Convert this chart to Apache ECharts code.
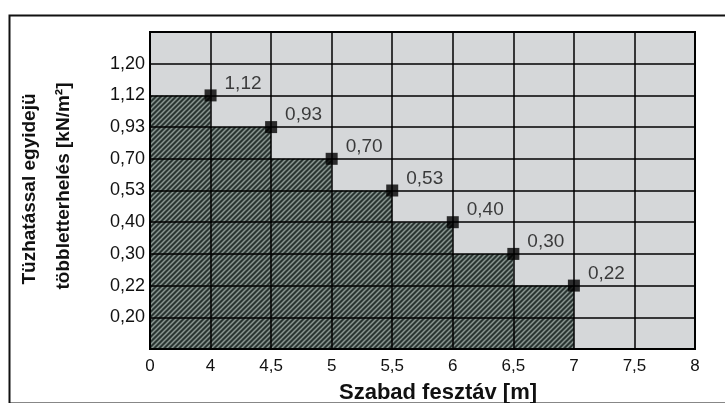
<!DOCTYPE html>
<html>
<head>
<meta charset="utf-8">
<script src="https://cdn.jsdelivr.net/npm/echarts@6/dist/echarts.min.js"></script>
<style>
  html, body { margin: 0; padding: 0; background: #fff; }
  #main { width: 725px; height: 403px; }
</style>
</head>
<body>
<div id="main"></div>
<script>
// tick labels (both axes are equally spaced in the original)
var xLabels = ['0', '4', '4,5', '5', '5,5', '6', '6,5', '7', '7,5', '8'];
var yLabels = ['', '0,20', '0,22', '0,30', '0,40', '0,53', '0,70', '0,93', '1,12', '1,20', ''];

// data
var spans = ['4', '4,5', '5', '5,5', '6', '6,5', '7'];
var loads = ['1,12', '0,93', '0,70', '0,53', '0,40', '0,30', '0,22'];

var points = spans.map(function (s, i) {
    return [xLabels.indexOf(s), yLabels.indexOf(loads[i]), loads[i]];
});
// step area starts at x=0 at the first level
var stepData = [[0, points[0][1]]].concat(points.map(function (p) { return [p[0], p[1]]; }));

// hatch pattern
var pat = document.createElement('canvas');
pat.width = 5; pat.height = 5;
var ctx = pat.getContext('2d');
ctx.fillStyle = '#2a3532';
ctx.fillRect(0, 0, 5, 5);
ctx.strokeStyle = '#8a9692';
ctx.lineWidth = 1.5;
ctx.beginPath();
ctx.moveTo(-1, 6); ctx.lineTo(6, -1);
ctx.moveTo(-1, 1); ctx.lineTo(1, -1);
ctx.moveTo(4, 6); ctx.lineTo(6, 4);
ctx.stroke();

var myChart = echarts.init(document.getElementById('main'));
var option = {
    animation: false,
    textStyle: { fontFamily: 'Liberation Sans' },
    grid: {
        left: 150, top: 32, right: 30, bottom: 54,
        show: true,
        backgroundColor: '#d5d7d9',
        borderColor: '#000',
        borderWidth: 2
    },
    xAxis: {
        type: 'value',
        min: 0, max: 9, interval: 1,
        z: 3,
        axisLine: { lineStyle: { color: '#000', width: 2 } },
        axisTick: { show: false },
        axisLabel: {
            color: '#111', fontSize: 17, margin: 9,
            formatter: function (v) { return xLabels[v]; }
        },
        splitLine: { lineStyle: { color: '#000', width: 1.5 } }
    },
    yAxis: {
        type: 'value',
        min: 0, max: 10, interval: 1,
        z: 3,
        axisLine: { show: true, lineStyle: { color: '#000', width: 2 } },
        axisTick: { show: false },
        axisLabel: {
            color: '#111', fontSize: 18, margin: 5,
            formatter: function (v) { return yLabels[v]; }
        },
        splitLine: { lineStyle: { color: '#000', width: 1.5 } }
    },
    graphic: [
        {
            type: 'rect', left: 7, top: 13, z: -1,
            shape: { width: 730, height: 388 },
            style: { fill: 'none', stroke: '#111', lineWidth: 2 }
        },
        {
            type: 'text', x: 30, y: 189, rotation: Math.PI / 2,
            style: {
                text: 'Tüzhatással egyidejü',
                font: 'bold 19px "Liberation Sans"', fill: '#111',
                align: 'center', verticalAlign: 'middle'
            }
        },
        {
            type: 'text', x: 64, y: 186, rotation: Math.PI / 2,
            style: {
                text: 'többletterhelés [kN/m²]',
                font: 'bold 19px "Liberation Sans"', fill: '#111',
                align: 'center', verticalAlign: 'middle'
            }
        },
        {
            type: 'text', x: 438, y: 393,
            style: {
                text: 'Szabad fesztáv [m]',
                font: 'bold 22px "Liberation Sans"', fill: '#111',
                align: 'center', verticalAlign: 'middle'
            }
        }
    ],
    series: [
        {
            type: 'line',
            step: 'start',
            data: stepData,
            symbol: 'none',
            lineStyle: { width: 0 },
            areaStyle: { color: { image: pat, repeat: 'repeat' }, opacity: 1 },
            z: 2
        },
        {
            type: 'scatter',
            data: points,
            symbol: 'rect',
            symbolSize: 12,
            itemStyle: { color: '#000' },
            z: 5,
            label: {
                show: true,
                position: 'right',
                offset: [3, -12],
                fontSize: 19,
                color: '#111',
                formatter: function (p) { return p.data[2]; }
            }
        }
    ]
};
myChart.setOption(option);
</script>
</body>
</html>
